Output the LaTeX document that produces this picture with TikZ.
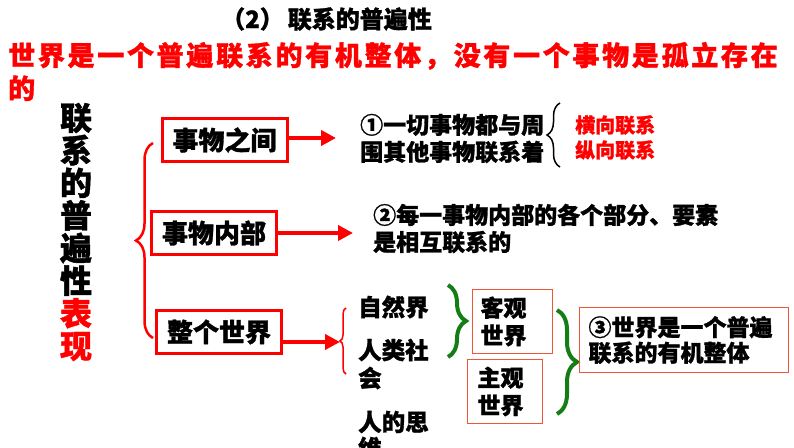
\documentclass[tikz,border=0pt]{standalone}
\usepackage{fontspec}
\setmainfont{Noto Sans CJK SC}[BoldFeatures={FakeBold=1.2}]
\newfontfamily\widecjk{Noto Sans CJK SC}[LetterSpace=10,BoldFeatures={FakeBold=1.2}]
\usetikzlibrary{arrows.meta,decorations.pathreplacing}
\definecolor{framered}{RGB}{240,85,55}
\definecolor{bracegreen}{RGB}{20,125,20}
\setlength{\lineskiplimit}{-8pt}

\begin{document}
\begin{tikzpicture}[x=1pt,y=-1pt,
  redbox/.style={draw=red,line width=3pt,minimum width=125pt,minimum height=43pt,inner sep=0pt,font=\fontsize{26}{28}\selectfont\bfseries},
  thinbox/.style={draw=framered,line width=1pt,anchor=north west,inner ysep=0pt,align=left,font=\fontsize{23}{27.5}\selectfont\bfseries},
  txt/.style={anchor=west,inner sep=0pt,align=left,font=\fontsize{23}{27}\selectfont\bfseries},
  redarrow/.style={red,line width=4pt,-{Triangle[length=15pt,width=15pt]}},
  bracket/.style={decorate,decoration={brace,amplitude=#1}}]
\useasboundingbox (0,0) rectangle (794,447);
\clip (0,0) rectangle (794,447);
% heading lines
\node[anchor=west,inner sep=0pt,font=\fontsize{24}{26}\selectfont\bfseries] (title) at (221,19) {（2）\,联系的普遍性};
\node[anchor=west,inner sep=0pt,red,align=left,font=\widecjk\fontsize{27}{33}\selectfont\bfseries] (theme) at (8,71.5)
  {世界是一个普遍联系的有机整体，没有一个事物是孤立存在\\的};
% vertical label
\node[inner sep=0pt,align=center,font=\fontsize{32}{32.6}\selectfont\bfseries] (label) at (76,232)
  {联\\系\\的\\普\\遍\\性\\\textcolor{red}{表}\\\textcolor{red}{现}};
\draw[red,line width=2.5pt,bracket=17pt] (153,338) -- (153,143);
% three aspects
\node[redbox] (between) at (224.5,140) {事物之间};
\node[redbox] (inside) at (214,233) {事物内部};
\node[redbox] (whole) at (219,332) {整个世界};
\coordinate (a1) at (336,138);
\coordinate (a2) at (353,233);
\coordinate (a3) at (340,342);
\draw[redarrow] (between.east |- a1) -- (a1);
\draw[redarrow] (inside.east |- a2) -- (a2);
\draw[redarrow] (whole.east |- a3) -- (a3);
% first row
\node[txt] (rel1) at (360,138.5) {①一切事物都与周\\围其他事物联系着};
\draw[black,line width=1.5pt,bracket=13pt] (560,167) -- (560,103);
\node[anchor=west,inner sep=0pt,red,align=left,font=\fontsize{20}{25}\selectfont\bfseries] (kinds) at (575,137.5) {横向联系\\纵向联系};
% second row
\node[txt] (rel2) at (373,228.5) {②每一事物内部的各个部分、要素\\是相互联系的};
% third row
\draw[red,line width=1.5pt,bracket=6pt] (346,374) -- (346,308);
\node[txt,font=\fontsize{23.5}{28}\selectfont\bfseries] (nature) at (358,307) {自然界};
\node[txt,font=\fontsize{23.5}{28}\selectfont\bfseries] (society) at (358,364) {人类社\\会};
\node[txt,font=\fontsize{23.5}{26}\selectfont\bfseries] (thought) at (358,435) {人的思\\维};
\draw[bracegreen,line width=4pt,bracket=18pt] (448,285) -- (448,357);
\node[thinbox,minimum height=64pt,text width=64pt,inner xsep=8pt] (objective) at (472,289) {客观\\世界};
\node[thinbox,minimum height=64pt,text width=55pt,inner xsep=10pt] (subjective) at (467,359) {主观\\世界};
\draw[bracegreen,line width=4pt,bracket=20pt] (557,310) -- (557,414);
\node[thinbox,minimum height=65pt,text width=191pt,inner xsep=9pt,font=\fontsize{23}{25.5}\selectfont\bfseries] (organic) at (579,307) {③世界是一个普遍\\联系的有机整体};
\end{tikzpicture}
\end{document}
